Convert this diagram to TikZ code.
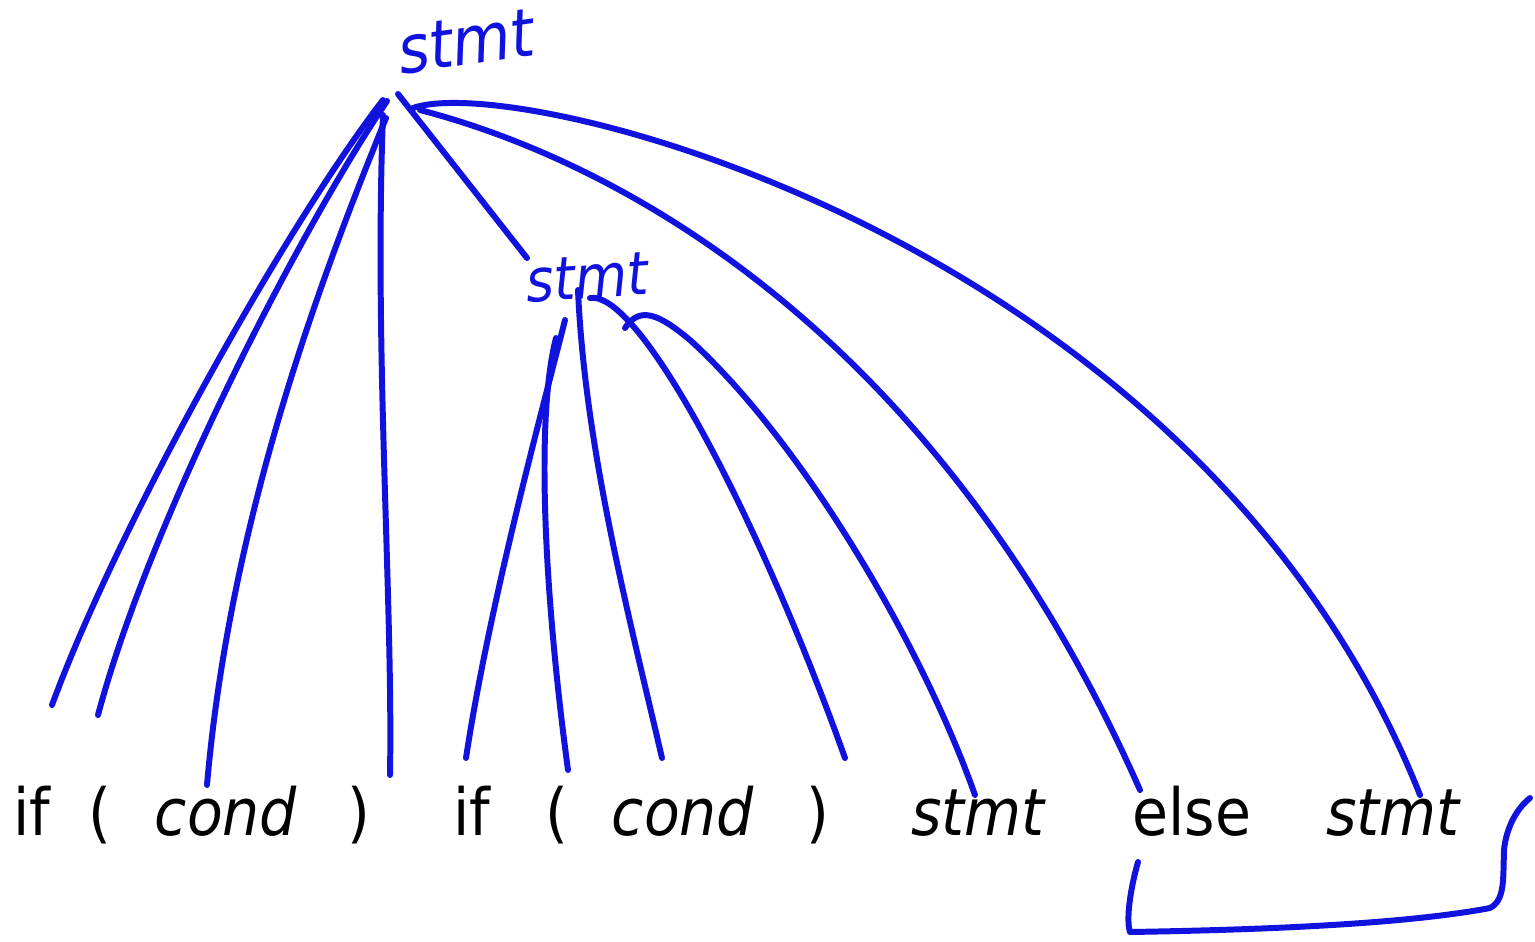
\documentclass[tikz,border=0pt]{standalone}
\usepackage{fontspec}
\setmainfont{DejaVu Sans Condensed}
\usepackage{tikz}

\definecolor{pen}{RGB}{18,18,222}

\tikzset{
  tok/.style={anchor=base, inner sep=0pt, font=\fontsize{18.5}{22}\selectfont},
  itok/.style={tok, font=\fontsize{18.5}{22}\selectfont\itshape},
  hand/.style={pen, inner sep=0pt, font=\fontsize{19}{22}\selectfont\itshape},
  ink/.style={pen, line width=1.7pt, line cap=round, line join=round}
}

\begin{document}
\begin{tikzpicture}[x=0.01cm, y=-0.01cm]
    \useasboundingbox (0,0) rectangle (1535,941);

    % the token row
    \foreach \n/\x/\t in {if1/32/if, lp1/100/(, rp1/359/), if2/472/if, lp2/557/(, rp2/818/), else/1192/else}
        \node[tok] (\n) at (\x,835) {\t};
    \foreach \n/\x in {cond1/226, cond2/683}
        \node[itok] (\n) at (\x,835) {cond};
    \foreach \n/\x in {stmt1/978, stmt2/1393}
        \node[itok] (\n) at (\x,835) {stmt};

    % the two stmt labels
    \node[hand, rotate=8] (root) at (466,42) {stmt};
    \node[hand, font=\fontsize{17}{20}\selectfont\itshape, rotate=4] (sub) at (587,278) {stmt};

    % where the strokes start and stop
    \coordinate (r1) at (383,100);  \coordinate (e1) at (52,705);
    \coordinate (r2) at (387,101);  \coordinate (e2) at (98,715);
    \coordinate (r3) at (386,118);  \coordinate (e3) at (207,785);
    \coordinate (r4) at (383,115);  \coordinate (e4) at (390,775);
    \coordinate (r5) at (398,94);   \coordinate (e5) at (527,258);
    \coordinate (r6) at (420,110);  \coordinate (e6) at (1140,790);
    \coordinate (r7) at (413,108);  \coordinate (e7) at (1420,795);
    \coordinate (s1) at (565,320);  \coordinate (f1) at (466,758);
    \coordinate (s2) at (556,338);  \coordinate (f2) at (568,770);
    \coordinate (s3) at (578,290);  \coordinate (f3) at (662,758);
    \coordinate (s4) at (590,298);  \coordinate (f4) at (845,758);
    \coordinate (s5) at (625,328);  \coordinate (f5) at (975,795);

    % outer stmt
    \draw[ink] (r1) .. controls (290,220) and (120,520) .. (e1);
    \draw[ink] (r2) .. controls (300,230) and (150,520) .. (e2);
    \draw[ink] (r3) .. controls (320,280) and (230,520) .. (e3);
    \draw[ink] (r4) .. controls (374,350) and (393,600) .. (e4);
    \draw[ink] (r5) -- (e5);
    \draw[ink] (r6) .. controls (650,170) and (950,360) .. (e6);
    \draw[ink] (r7) .. controls (520,70) and (1200,240) .. (e7);

    % inner stmt
    \draw[ink] (s1) .. controls (545,400) and (490,600) .. (f1);
    \draw[ink] (s2) .. controls (535,420) and (545,600) .. (f2);
    \draw[ink] (s3) .. controls (585,450) and (630,620) .. (f3);
    \draw[ink] (s4) .. controls (640,290) and (760,520) .. (f4);
    \draw[ink] (s5) .. controls (640,305) and (660,315) .. (690,340)
                    .. controls (800,440) and (920,640) .. (f5);

    % bracket under else stmt
    \draw[ink] (1138,862) .. controls (1130,890) and (1126,920) .. (1130,932)
        .. controls (1250,930) and (1400,925) .. (1490,908)
        .. controls (1505,900) and (1503,880) .. (1504,850)
        .. controls (1506,830) and (1515,810) .. (1530,798);
\end{tikzpicture}
\end{document}
